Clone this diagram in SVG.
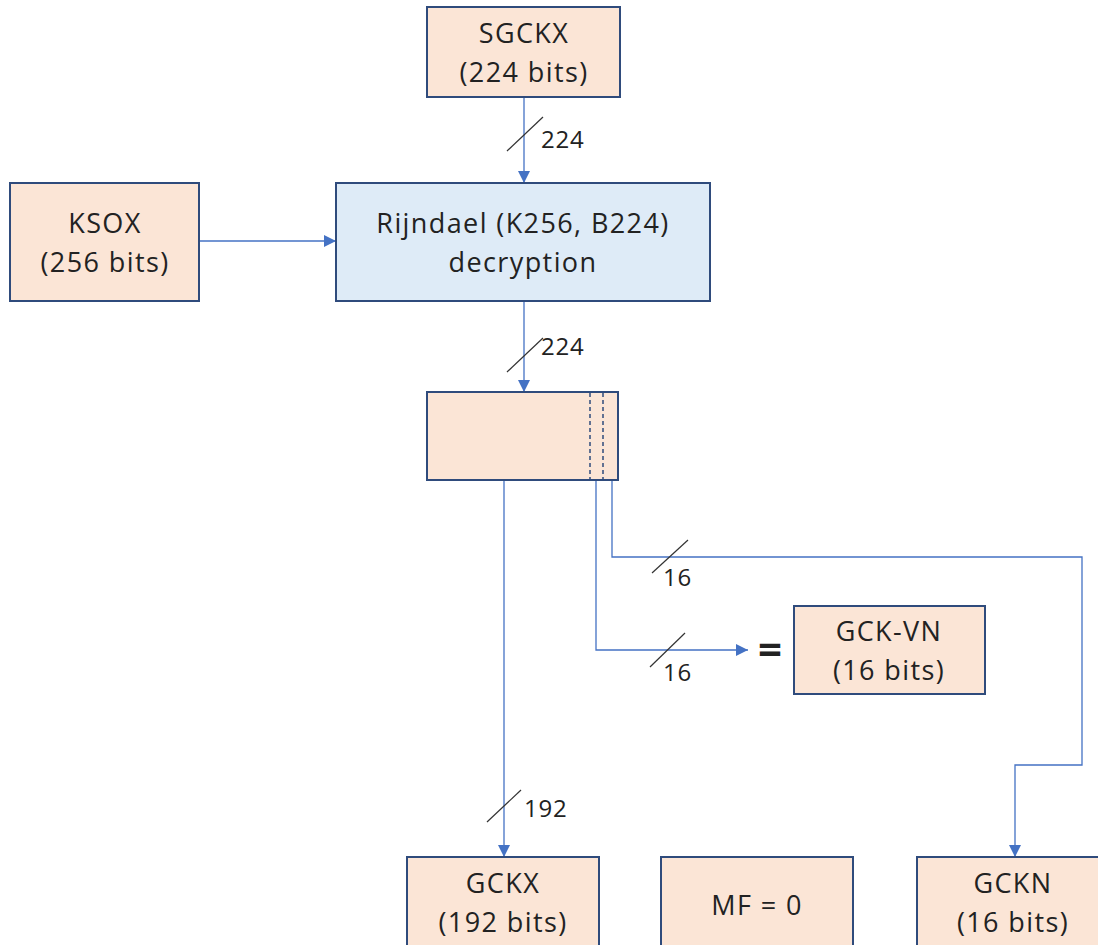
<svg xmlns="http://www.w3.org/2000/svg" width="1098" height="945" viewBox="0 0 1098 945">
<defs>
<style>
.box{fill:#FBE5D6;stroke:#2F4B7C;stroke-width:2}
.blue{fill:#DEEBF7;stroke:#2F4B7C;stroke-width:2}
.t{font-family:"Open Sans",sans-serif;font-size:27px;fill:#222;text-anchor:middle;letter-spacing:1.4px}
.lbl{font-family:"Open Sans",sans-serif;font-size:24px;fill:#222;letter-spacing:0.8px}
.c{fill:none;stroke:#4472C4;stroke-width:1.3}
.sl{stroke:#333;stroke-width:1.2}
.dash{stroke:#2F4B7C;stroke-width:1.5;stroke-dasharray:4 3}
</style>
<marker id="ah" viewBox="0 0 12 12" refX="12" refY="6" markerWidth="12" markerHeight="12" markerUnits="userSpaceOnUse" orient="auto">
<path d="M0,0 L12,6 L0,12 Z" fill="#4472C4"/>
</marker>
</defs>
<rect width="1098" height="945" fill="#fff"/>
<g id="connectors">
<line class="c" x1="524" y1="97" x2="524" y2="183" marker-end="url(#ah)"/>
<line class="c" x1="199" y1="241" x2="336" y2="241" marker-end="url(#ah)"/>
<line class="c" x1="524" y1="301" x2="524" y2="392" marker-end="url(#ah)"/>
<line class="c" x1="504" y1="480" x2="504" y2="857" marker-end="url(#ah)"/>
<polyline class="c" points="596,480 596,650 748,650" marker-end="url(#ah)"/>
<polyline class="c" points="612,480 612,557 1082,557 1082,765 1015,765 1015,857" marker-end="url(#ah)"/>
<line class="sl" x1="507" y1="151" x2="543" y2="117"/>
<text class="lbl" x="541" y="148">224</text>
<line class="sl" x1="507" y1="372" x2="543" y2="338"/>
<text class="lbl" x="541" y="355">224</text>
<line class="sl" x1="652" y1="573" x2="688" y2="540"/>
<text class="lbl" x="663" y="586">16</text>
<line class="sl" x1="650" y1="667" x2="685" y2="633"/>
<text class="lbl" x="663" y="681">16</text>
<line class="sl" x1="487" y1="822" x2="521" y2="790"/>
<text class="lbl" x="524" y="817">192</text>
<text x="770" y="664" style="font-family:'Open Sans',sans-serif;font-size:42px;font-weight:bold;fill:#222;text-anchor:middle">=</text>
</g>
<g id="sgckx">
<rect class="box" x="427" y="7" width="193" height="90"/>
<text class="t" x="524" y="43">SGCKX</text>
<text class="t" x="524" y="82">(224 bits)</text>
</g>
<g id="ksox">
<rect class="box" x="10" y="183" width="189" height="118"/>
<text class="t" x="105" y="233">KSOX</text>
<text class="t" x="105" y="272">(256 bits)</text>
</g>
<g id="rijndael">
<rect class="blue" x="336" y="183" width="374" height="118"/>
<text class="t" x="523" y="233">Rijndael (K256, B224)</text>
<text class="t" x="523" y="272">decryption</text>
</g>
<g id="block">
<rect class="box" x="427" y="392" width="191" height="88"/>
<line class="dash" x1="590" y1="393" x2="590" y2="479"/>
<line class="dash" x1="603" y1="393" x2="603" y2="479"/>
</g>
<g id="gckvn">
<rect class="box" x="794" y="606" width="191" height="88"/>
<text class="t" x="889" y="641">GCK-VN</text>
<text class="t" x="889" y="680">(16 bits)</text>
</g>
<g id="gckx">
<rect class="box" x="407" y="857" width="192" height="100"/>
<text class="t" x="503" y="893">GCKX</text>
<text class="t" x="503" y="932">(192 bits)</text>
</g>
<g id="mf">
<rect class="box" x="661" y="857" width="192" height="100"/>
<text class="t" x="757" y="915">MF = 0</text>
</g>
<g id="gckn">
<rect class="box" x="917" y="857" width="192" height="100"/>
<text class="t" x="1013" y="893">GCKN</text>
<text class="t" x="1013" y="932">(16 bits)</text>
</g>
</svg>
